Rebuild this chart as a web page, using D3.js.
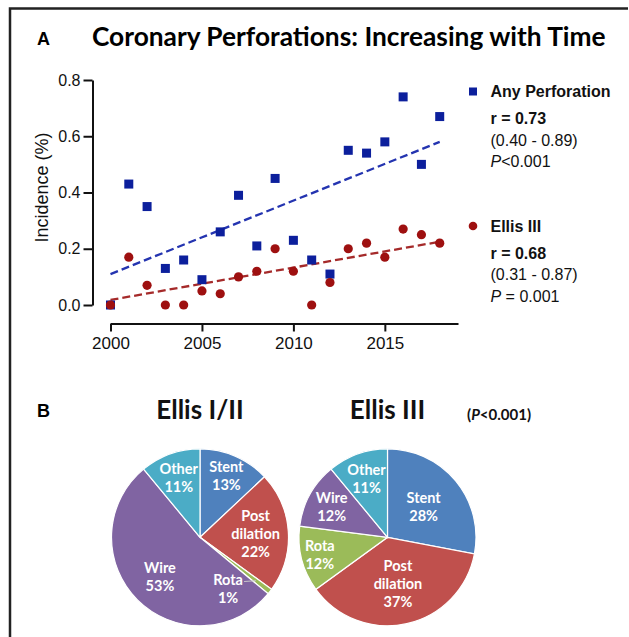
<!DOCTYPE html>
<html>
<head>
<meta charset="utf-8">
<script src="https://cdn.jsdelivr.net/npm/d3@7"></script>
<style>
	body { margin: 0; background: #fff; }
	svg { display: block; }
</style>
</head>
<body>
<svg id="fig" width="629" height="637" viewBox="0 0 629 637"></svg>
<script>

// panel A: yearly incidence (%)
const years = [2000, 2001, 2002, 2003, 2004, 2005, 2006, 2007, 2008, 2009,
	2010, 2011, 2012, 2013, 2014, 2015, 2016, 2017, 2018];
const anyPerforation = [0.00, 0.43, 0.35, 0.13, 0.16, 0.09, 0.26, 0.39, 0.21, 0.45,
	0.23, 0.16, 0.11, 0.55, 0.54, 0.58, 0.74, 0.50, 0.67];
const ellisIII = [0.00, 0.17, 0.07, 0.00, 0.00, 0.05, 0.04, 0.10, 0.12, 0.20,
	0.12, 0.00, 0.08, 0.20, 0.22, 0.17, 0.27, 0.25, 0.22];
// fitted regression lines (end points)
const fitYears = [2000, 2018];
const anyFit = [0.11, 0.58];
const ellisFit = [0.018, 0.225];
const xTicks = [2000, 2005, 2010, 2015];
const yTicks = [0.0, 0.2, 0.4, 0.6, 0.8];

// panel B: cause of perforation (%)
const causes = ["Stent", "Post dilation", "Rota", "Wire", "Other"];
const ellisI_II_share = [13, 22, 1, 53, 11];
const ellisIII_share = [28, 37, 12, 12, 11];
const causeColors = ["#4f81bd", "#c0504d", "#9bbb59", "#8064a2", "#4bacc6"];

const blue = "#0c1f9c";
const red = "#9e1010";

const svg = d3.select("#fig");

// frame
svg.append("path")
	.attr("d", "M10,637 L10,8.5 L628,8.5")
	.attr("fill", "none")
	.attr("stroke", "#222")
	.attr("stroke-width", 2.5);

// ---------- panel A ----------
svg.append("text")
	.attr("x", 37).attr("y", 45)
	.style("font", "bold 18px 'Liberation Sans', Arial, sans-serif")
	.text("A");

svg.append("text")
	.attr("x", 92).attr("y", 46)
	.style("font", "bold 26.3px Lato, sans-serif")
	.text("Coronary Perforations: Increasing with Time");

const x = d3.scaleLinear().domain([2000, 2019]).range([110.5, 458]);
const y = d3.scaleLinear().domain([0, 0.8]).range([305, 80]);

const axisFont = "16px 'Liberation Sans', Arial, sans-serif";

const yAxis = svg.append("g")
	.attr("transform", "translate(92.5,0)")
	.call(d3.axisLeft(y).tickValues(yTicks).tickFormat(d3.format(".1f")).tickSize(9).tickSizeOuter(0).tickPadding(3));
const xAxis = svg.append("g")
	.attr("transform", "translate(0,323.5)")
	.call(d3.axisBottom(x).tickValues(xTicks).tickFormat(d3.format("d")).tickSize(8).tickSizeOuter(0).tickPadding(5));

[yAxis, xAxis].forEach(g => {
	g.select(".domain").attr("stroke", "#111").attr("stroke-width", 2);
	g.selectAll(".tick line").attr("stroke", "#111").attr("stroke-width", 2);
	g.selectAll(".tick text").style("font", axisFont).attr("fill", "#111");
});
xAxis.selectAll(".tick text").style("font-size", "17px");

svg.append("text")
	.attr("transform", "translate(48,187.5) rotate(-90)")
	.attr("text-anchor", "middle")
	.style("font", "18px 'Liberation Sans', Arial, sans-serif")
	.attr("fill", "#111")
	.text("Incidence (%)");

// trend lines
const fitLine = d3.line().x(d => x(d[0])).y(d => y(d[1]));
[[anyFit, "#2434b0"], [ellisFit, "#a52a2a"]].forEach(([fit, col]) => {
	svg.append("path")
		.datum(fitYears.map((yr, i) => [yr, fit[i]]))
		.attr("d", fitLine)
		.attr("fill", "none")
		.attr("stroke", col)
		.attr("stroke-width", 2.3)
		.attr("stroke-dasharray", "8,4");
});

const sq = 9;
svg.append("g").selectAll("rect")
	.data(years.map((yr, i) => [yr, anyPerforation[i]]))
	.join("rect")
	.attr("x", d => x(d[0]) - sq / 2)
	.attr("y", d => y(d[1]) - sq / 2)
	.attr("width", sq).attr("height", sq)
	.attr("fill", blue);

svg.append("g").selectAll("circle")
	.data(years.map((yr, i) => [yr, ellisIII[i]]))
	.join("circle")
	.attr("cx", d => x(d[0]))
	.attr("cy", d => y(d[1]))
	.attr("r", 4.6)
	.attr("fill", red);

// legend
const legFont = "16px 'Liberation Sans', Arial, sans-serif";
function legendBlock(top, marker, title, r, ci, p) {
	const g = svg.append("g").attr("transform", `translate(473,${top})`);
	if (marker === "square") {
		g.append("rect").attr("x", -4).attr("y", -4).attr("width", 8).attr("height", 8).attr("fill", blue);
	} else {
		g.append("circle").attr("r", 4.3).attr("fill", red);
	}
	const t = (dy, txt, bold) => g.append("text")
		.attr("x", 17.5).attr("y", dy)
		.style("font", legFont)
		.style("font-weight", bold ? "bold" : "normal")
		.attr("fill", "#111")
		.text(txt);
	t(5.8, title, true);
	t(32.5, r, true);
	t(54, ci, false);
	const pt = g.append("text").attr("x", 17.5).attr("y", 75.5).style("font", legFont).attr("fill", "#111");
	pt.append("tspan").style("font-style", "italic").text("P");
	pt.append("tspan").text(p);
}
legendBlock(91.5, "square", "Any Perforation", "r = 0.73", "(0.40 - 0.89)", "<0.001");
legendBlock(226, "circle", "Ellis III", "r = 0.68", "(0.31 - 0.87)", " = 0.001");

// ---------- panel B ----------
svg.append("text")
	.attr("x", 37).attr("y", 417)
	.style("font", "bold 18px 'Liberation Sans', Arial, sans-serif")
	.text("B");

const R = 88.5;
const pieCy = 537.3;
const pies = [
	{ title: "Ellis I/II", cx: 200, values: ellisI_II_share, labelR: [0.75, 0.63, 0.66, 0.64, 0.71] },
	{ title: "Ellis III", cx: 387.5, values: ellisIII_share, labelR: [0.53, 0.54, 0.79, 0.72, 0.70] }
];

const pie = d3.pie().sort(null).value(d => d);
const arc = d3.arc().innerRadius(0).outerRadius(R);

pies.forEach(p => {
	svg.append("text")
		.attr("x", p.cx).attr("y", 418.5)
		.attr("text-anchor", "middle")
		.style("font", "bold 26px Lato, sans-serif")
		.attr("fill", "#111")
		.text(p.title);

	const g = svg.append("g").attr("transform", `translate(${p.cx},${pieCy})`);
	const arcs = pie(p.values);
	g.selectAll("path")
		.data(arcs)
		.join("path")
		.attr("d", arc)
		.attr("fill", (d, i) => causeColors[i])
		.attr("stroke", "#fff")
		.attr("stroke-width", 1.2);

	arcs.forEach((a, i) => {
		let ang = (a.startAngle + a.endAngle) / 2;
		let rr = p.labelR[i] * R;
		const small = p.values[i] < 3;
		if (small) {
			// tiny slice: label moved onto the neighbouring slice, with a leader line
			const tip = [Math.sin(ang) * 0.8 * R, -Math.cos(ang) * 0.8 * R];
			ang = ang + 0.41;
			const lx = Math.sin(ang) * rr, ly = -Math.cos(ang) * rr;
			g.append("line")
				.attr("x1", lx + 16).attr("y1", ly - 7)
				.attr("x2", tip[0]).attr("y2", tip[1])
				.attr("stroke", "#c8c8c8").attr("stroke-width", 1);
		}
		const lx = Math.sin(ang) * rr, ly = -Math.cos(ang) * rr;
		const lines = causes[i].split(" ").concat([p.values[i] + "%"]);
		const txt = g.append("text")
			.attr("text-anchor", "middle")
			.style("font", "bold 14.5px Lato, sans-serif")
			.attr("fill", "#fff");
		lines.forEach((ln, k) => {
			txt.append("tspan")
				.attr("x", lx)
				.attr("y", ly + (k - (lines.length - 1) / 2) * 18 + 5)
				.text(ln);
		});
	});
});

const pNote = svg.append("text")
	.attr("x", 467).attr("y", 420)
	.style("font", "bold 15px Lato, sans-serif")
	.attr("fill", "#111");
pNote.append("tspan").text("(");
pNote.append("tspan").style("font-style", "italic").text("P");
pNote.append("tspan").text("<0.001)");

</script>
</body>
</html>
